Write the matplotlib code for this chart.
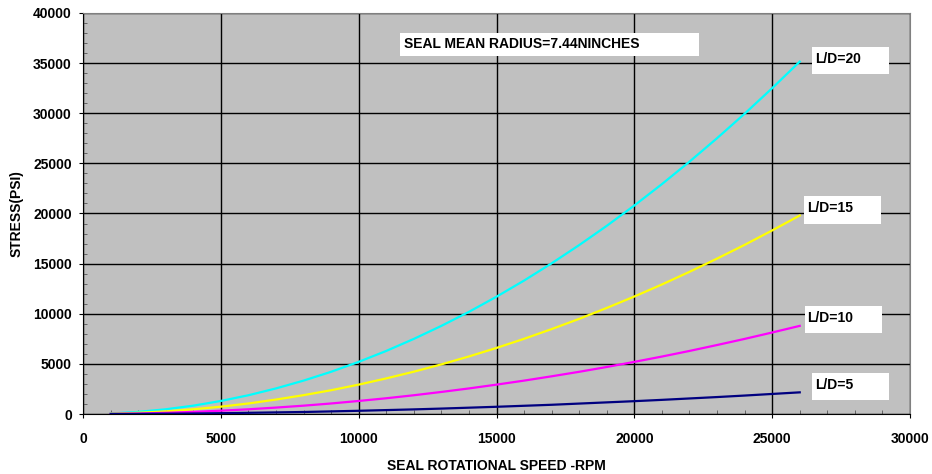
import matplotlib.pyplot as plt
from matplotlib.patches import Rectangle
from matplotlib.ticker import MultipleLocator

plt.rcParams['font.family'] = ['Liberation Sans', 'DejaVu Sans']
plt.rcParams['font.weight'] = 'bold'

# speeds (rpm) at 1000 rpm steps
rpm = [1000, 2000, 3000, 4000, 5000, 6000, 7000, 8000, 9000, 10000, 11000, 12000, 13000,
       14000, 15000, 16000, 17000, 18000, 19000, 20000, 21000, 22000, 23000, 24000, 25000, 26000]

stress_ld20 = [50, 210, 470, 830, 1300, 1870, 2550, 3330, 4210, 5200, 6290, 7490, 8790,
               10190, 11700, 13310, 15030, 16850, 18770, 20800, 22930, 25170, 27510, 29950, 32500, 35150]
stress_ld15 = [30, 120, 260, 470, 730, 1050, 1440, 1880, 2370, 2930, 3550, 4220, 4950,
               5740, 6590, 7500, 8470, 9490, 10580, 11720, 12920, 14180, 15500, 16870, 18310, 19800]
stress_ld10 = [10, 50, 120, 210, 330, 470, 640, 830, 1050, 1300, 1570, 1870, 2200,
               2550, 2930, 3330, 3760, 4210, 4690, 5200, 5730, 6290, 6880, 7490, 8130, 8790]
stress_ld5 = [0, 10, 30, 50, 80, 120, 160, 200, 260, 320, 390, 460, 540,
              630, 720, 820, 920, 1040, 1160, 1280, 1410, 1550, 1690, 1840, 2000, 2160]

series = [
    (stress_ld20, '#00FFFF', 'L/D=20', 26450, 35300),
    (stress_ld15, '#FFFF00', 'L/D=15', 26150, 20350),
    (stress_ld10, '#FF00FF', 'L/D=10', 26180, 9450),
    (stress_ld5, '#000080', 'L/D=5', 26450, 2700),
]

fig = plt.figure(figsize=(9.32, 4.74), dpi=100)
ax = fig.add_axes([83 / 932, 60 / 474, 827 / 932, 401 / 474])
ax.set_facecolor('#C0C0C0')

for vals, col, lab, lx, ly in series:
    ax.plot(rpm, vals, color=col, lw=1.6, zorder=3)

# label boxes (white, no border)
box_w, box_h = 2800, 2700
for vals, col, lab, lx, ly in series:
    ax.add_patch(Rectangle((lx, ly - box_h / 2), box_w, box_h, facecolor='white',
                           edgecolor='none', zorder=4))
    ax.text(lx + 100, ly + 150, lab, fontsize=10, fontweight='bold', va='center',
            ha='left', zorder=5)

ax.add_patch(Rectangle((11500, 35700), 10850, 2300, facecolor='white',
                       edgecolor='none', zorder=4))
ax.text(11650, 36900, 'SEAL MEAN RADIUS=7.44NINCHES', fontsize=10, fontweight='bold',
        va='center', ha='left', zorder=5)

ax.set_xlim(0, 30000)
ax.set_ylim(0, 40000)
ax.xaxis.set_major_locator(MultipleLocator(5000))
ax.yaxis.set_major_locator(MultipleLocator(5000))
ax.xaxis.set_minor_locator(MultipleLocator(1000))
ax.yaxis.set_minor_locator(MultipleLocator(1000))
ax.grid(True, which='major', color='black', lw=1.0, zorder=1)
ax.set_axisbelow(True)
ax.tick_params(which='major', length=3, direction='out', labelsize=10)
ax.tick_params(axis='x', which='major', pad=10)
ax.tick_params(axis='y', which='major', pad=5)
ax.tick_params(which='minor', length=3, direction='in', color='#555555')
for lbl in ax.get_xticklabels() + ax.get_yticklabels():
    lbl.set_fontweight('bold')

for s in ['top', 'right']:
    ax.spines[s].set_color('#808080')
for s in ['left', 'bottom']:
    ax.spines[s].set_color('black')

ax.set_xlabel('SEAL ROTATIONAL SPEED -RPM', fontsize=10, fontweight='bold', labelpad=9)
ax.set_ylabel('STRESS(PSI)', fontsize=10, fontweight='bold', labelpad=7)

fig.savefig('out.png', dpi=100, facecolor='white')
